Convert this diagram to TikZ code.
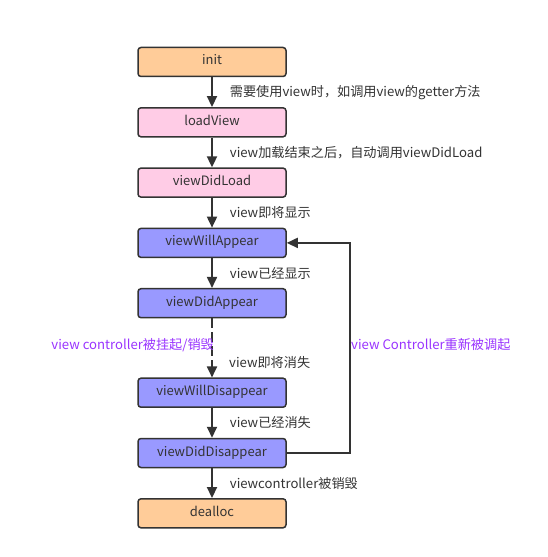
\documentclass[tikz,border=0pt]{standalone}
\usepackage{fontspec}
\setmainfont{Noto Sans CJK SC}
\usetikzlibrary{arrows.meta, positioning, calc}
\definecolor{peach}{RGB}{255,204,153}
\definecolor{blush}{RGB}{255,204,230}
\definecolor{lilac}{RGB}{153,153,255}
\definecolor{violettext}{RGB}{153,51,255}
\definecolor{ink}{RGB}{51,51,51}

\begin{document}
\begin{tikzpicture}[
    x=1bp, y=1bp,
    node distance=29.8bp,
    stage/.style={draw=ink, line width=1.5bp, rounded corners=3bp, minimum width=148bp,
                  minimum height=29bp, text height=9bp, text depth=3bp, inner sep=0pt,
                  font=\fontsize{13}{14}\selectfont, text=ink},
    flow/.style={draw=ink, line width=1.8bp, -{Triangle[length=11bp,width=10bp]}},
    lbl/.style={inner sep=0pt, font=\fontsize{13.2}{14}\selectfont, text=ink},
    note/.style={inner sep=0pt, font=\fontsize{13.2}{14}\selectfont, text=violettext}
]
    \useasboundingbox (0,0) rectangle (548,-557);
    % lifecycle column
    \node[stage, fill=peach] (init) at (212,-62) {init};
    \node[stage, fill=blush, below=of init] (loadView) {loadView};
    \node[stage, fill=blush, below=of loadView] (viewDidLoad) {viewDidLoad};
    \node[stage, fill=lilac, below=of viewDidLoad] (viewWillAppear) {viewWillAppear};
    \node[stage, fill=lilac, below=of viewWillAppear] (viewDidAppear) {viewDidAppear};
    \node[stage, fill=lilac, below=59bp of viewDidAppear] (viewWillDisappear) {viewWillDisappear};
    \node[stage, fill=lilac, below=of viewWillDisappear] (viewDidDisappear) {viewDidDisappear};
    \node[stage, fill=peach, below=of viewDidDisappear] (dealloc) {dealloc};

    % transitions
    \draw[flow] (init) -- node[lbl, right=17bp] (t1) {需要使用view时，如调用view的getter方法} (loadView);
    \draw[flow] (loadView) -- node[lbl, right=17bp] (t2) {view加载结束之后，自动调用viewDidLoad} (viewDidLoad);
    \draw[flow] (viewDidLoad) -- node[lbl, right=17bp] (t3) {view即将显示} (viewWillAppear);
    \draw[flow] (viewWillAppear) -- node[lbl, right=17bp] (t4) {view已经显示} (viewDidAppear);
    \draw[flow, dash pattern=on 10bp off 4bp] (viewDidAppear) -- (viewWillDisappear);
    \node[lbl, anchor=west] (t5) at ($(viewWillDisappear.north)+(17,15)$) {view即将消失};
    \draw[flow] (viewWillDisappear) -- node[lbl, right=17bp] (t6) {view已经消失} (viewDidDisappear);
    \draw[flow] (viewDidDisappear) -- node[lbl, right=17bp] (t7) {viewcontroller被销毁} (dealloc);

    % loop back
    \coordinate (bend) at (350,0);
    \draw[flow] (viewDidDisappear.east) -| (bend |- viewWillAppear) -- (viewWillAppear.east);

    % side notes
    \node[note, anchor=east] (suspend) at (214,-345) {view controller被挂起/销毁};
    \node[note, anchor=west] (resume) at (351,-345) {view Controller重新被调起};
\end{tikzpicture}
\end{document}
